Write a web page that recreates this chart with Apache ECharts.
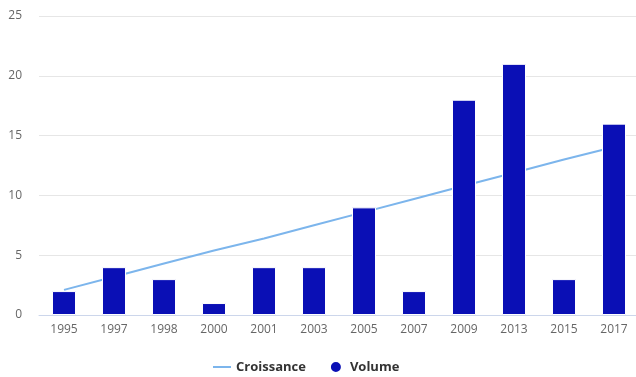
<!DOCTYPE html>
<html>
<head>
<meta charset="utf-8">
<script src="https://cdn.jsdelivr.net/npm/echarts@6/dist/echarts.min.js"></script>
<style>
  html, body { margin: 0; padding: 0; background: #fff; }
  #chart { width: 636px; height: 377px; }
</style>
</head>
<body>
<div id="chart"></div>
<script>
// Years on the category axis
const years = ['1995', '1997', '1998', '2000', '2001', '2003', '2005', '2007', '2009', '2013', '2015', '2017'];
// Column values (Volume)
const volume = [2, 4, 3, 1, 4, 4, 9, 2, 18, 21, 3, 16];
// Trend line values (Croissance)
const croissance = [2.1, 3.2, 4.3, 5.4, 6.4, 7.5, 8.6, 9.7, 10.8, 11.9, 13.0, 14.05];
// Value axis ticks
const yMin = 0, yMax = 25, yStep = 5;

const font = '"Open Sans", "Noto Sans", sans-serif';
const chart = echarts.init(document.getElementById('chart'));
chart.setOption({
  animation: false,
  textStyle: { fontFamily: font },
  // the plot area runs a few pixels past the right edge of the canvas
  grid: {
    left: 39, width: 600, top: 16, bottom: 62,
    containLabel: false,
    outerBoundsMode: 'none'
  },
  legend: {
    bottom: 3,
    left: 213,
    padding: 0,
    itemGap: 23,
    itemWidth: 18,
    itemHeight: 12,
    textStyle: { color: '#333', fontWeight: 'bold', fontSize: 13, fontFamily: font },
    data: [
      { name: 'Croissance', icon: 'path://M0,5 L18,5 L18,7 L0,7 Z' },
      { name: 'Volume', icon: 'circle' }
    ]
  },
  xAxis: {
    type: 'category',
    data: years,
    axisLine: { lineStyle: { color: '#ccd6eb' } },
    axisTick: { show: false },
    axisLabel: { color: '#666', fontSize: 12, margin: 9, fontFamily: font }
  },
  yAxis: {
    type: 'value',
    min: yMin, max: yMax, interval: yStep,
    axisLine: { show: false },
    axisTick: { show: false },
    splitLine: { lineStyle: { color: '#e6e6e6' } },
    axisLabel: { color: '#666', fontSize: 12, margin: 17, fontFamily: font }
  },
  series: [
    {
      name: 'Croissance',
      type: 'line',
      data: croissance,
      symbol: 'none',
      z: 1,
      lineStyle: { color: '#7cb5ec', width: 2 },
      itemStyle: { color: '#7cb5ec' }
    },
    {
      name: 'Volume',
      type: 'bar',
      data: volume,
      barWidth: 24,
      z: 3,
      itemStyle: { color: '#0a0fb5', borderColor: '#ffffff', borderWidth: 1 }
    }
  ]
});
</script>
</body>
</html>
